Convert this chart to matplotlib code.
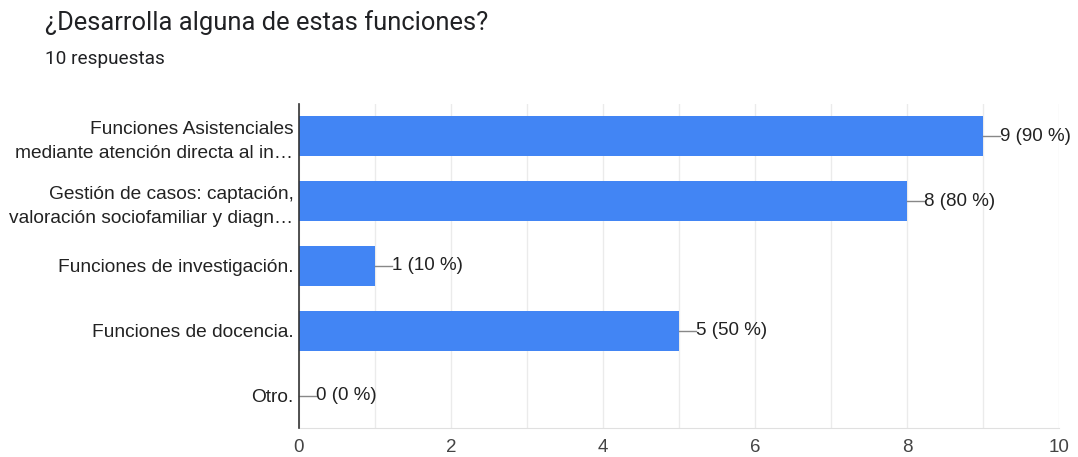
import matplotlib
matplotlib.use('Agg')
import matplotlib.pyplot as plt
import numpy as np

plt.rcParams['font.family'] = ['Liberation Sans', 'DejaVu Sans']

# datos de la encuesta
categorias = ['Funciones Asistenciales\nmediante atención directa al in…',
              'Gestión de casos: captación,\nvaloración sociofamiliar y diagn…',
              'Funciones de investigación.',
              'Funciones de docencia.',
              'Otro.']
respuestas = [9, 8, 1, 5, 0]
porcentajes = [90, 80, 10, 50, 0]
total = 10

azul = '#4285f4'

fig = plt.figure(figsize=(10.78, 4.57), dpi=100)
fig.text(45 / 1078, 1 - 23 / 457, '¿Desarrolla alguna de estas funciones?',
         fontsize=18.4, color='#202124', va='center', ha='left',
         family=['Roboto', 'DejaVu Sans'])
fig.text(45 / 1078, 1 - 59 / 457, '%d respuestas' % total,
         fontsize=13.7, color='#202124', va='center', ha='left',
         family=['Roboto', 'DejaVu Sans'])

ax = fig.add_axes([299 / 1078, 1 - 428 / 457, 760 / 1078, 324 / 457])
y = np.arange(len(categorias))
ax.barh(y, respuestas, height=0.62, color=azul, zorder=3)

ax.set_xlim(0, 10)
ax.set_ylim(len(categorias) - 0.5, -0.5)
ax.set_xticks(np.arange(0, 11, 2))
ax.set_xticks(np.arange(0, 11, 1), minor=True)
ax.grid(axis='x', which='both', color='#ebebeb', linewidth=1, zorder=0)
ax.set_yticks(y)
ax.set_yticklabels(categorias, fontsize=13.8, color='#222222', linespacing=1.5)
ax.tick_params(axis='y', length=0, pad=4)
ax.tick_params(axis='x', which='both', length=0, labelsize=13.5, labelcolor='#444444', pad=8)

for s in ['top', 'right']:
    ax.spines[s].set_visible(False)
ax.spines['left'].set_color('#333333')
ax.spines['left'].set_linewidth(1.2)
ax.spines['left'].set_zorder(4)
ax.spines['bottom'].set_color('#e0e0e0')

# etiquetas de valor con línea guía
for yi, v, p in zip(y, respuestas, porcentajes):
    ax.plot([v, v + 0.22], [yi, yi], color='#888888', linewidth=1, zorder=4, clip_on=False)
    ax.text(v + 0.23, yi, '%d (%d %%)' % (v, p), va='center', ha='left',
            fontsize=13.5, color='#222222', zorder=5)

plt.savefig('out.png', dpi=100)
